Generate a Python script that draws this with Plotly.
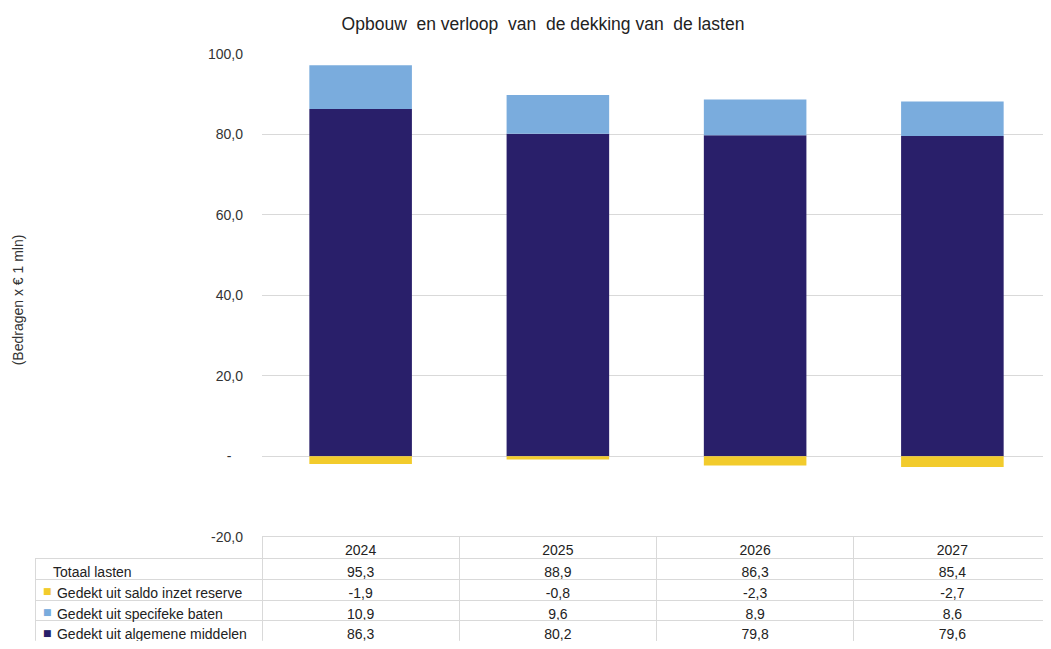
import plotly.graph_objects as go

years = ["2024", "2025", "2026", "2027"]
totaal_lasten = [95.3, 88.9, 86.3, 85.4]
saldo_reserve = [-1.9, -0.8, -2.3, -2.7]
specifieke_baten = [10.9, 9.6, 8.9, 8.6]
algemene_middelen = [86.3, 80.2, 79.8, 79.6]

row_names = ["Totaal lasten", "Gedekt uit saldo inzet reserve", "Gedekt uit specifeke baten",
             "Gedekt uit algemene middelen"]
tick_vals = [-20, 0, 20, 40, 60, 80, 100]
tick_text = ["-20,0", "-\u00a0\u00a0\u00a0", "20,0", "40,0", "60,0", "80,0", "100,0"]

c_navy = "#291F6A"
c_blue = "#7AACDD"
c_yellow = "#F2CB2C"
row_key_colors = ["white", c_yellow, c_blue, c_navy]
grid = "#D9D9D9"
font_family = "Liberation Sans, Arial, sans-serif"
transparent = "rgba(0,0,0,0)"

# page has an 8px body margin: figure origin sits at page (8, 8)
OFF = 8
W, H = 1051 - OFF, 649 - OFF
t_m, b_m = 54 - OFF, 4
paper_h = H - t_m - b_m
axis_bottom = 540 - OFF
axis_frac = (H - b_m - axis_bottom) / paper_h
plot_left = 262 - OFF
table_left = 35 - OFF
label_left = 45 - OFF
header_h = 22
row_h = (paper_h * axis_frac - header_h) / 4
col_w = (W - plot_left) / 4

fig = go.Figure()
fig.add_trace(go.Bar(x=years, y=algemene_middelen, name=row_names[3], marker_color=c_navy,
                     marker_line_width=0, showlegend=False))
fig.add_trace(go.Bar(x=years, y=specifieke_baten, name=row_names[2], marker_color=c_blue,
                     marker_line_width=0, showlegend=False))
fig.add_trace(go.Bar(x=years, y=saldo_reserve, name=row_names[1], marker_color=c_yellow,
                     marker_line_width=0, showlegend=False))

def fmt(v):
    return f"{v:.1f}".replace(".", ",")

# first-column frame with the legend keys
fig.add_trace(go.Table(
    domain=dict(x=[table_left / W, plot_left / W], y=[0, axis_frac]),
    header=dict(values=[""], height=header_h, fill=dict(color=transparent),
                line=dict(color=transparent, width=1)),
    cells=dict(values=[["■"] * 4], height=row_h, fill_color="white",
               line=dict(color=grid, width=1), align="left",
               font=dict(family="DejaVu Sans", size=9, color=[row_key_colors])),
))

row_labels = [row_names[0]] + ["\u2009\u200a" + n for n in row_names[1:]]
cols = [row_labels]
for i in range(len(years)):
    cols.append([fmt(totaal_lasten[i]), fmt(saldo_reserve[i]), fmt(specifieke_baten[i]), fmt(algemene_middelen[i])])

fig.add_trace(go.Table(
    domain=dict(x=[label_left / W, 1], y=[0, axis_frac]),
    columnwidth=[plot_left - label_left] + [col_w] * 4,
    header=dict(values=[""] + years, height=header_h,
                fill=dict(color=[transparent] + ["white"] * 4),
                line=dict(color=[transparent] + [grid] * 4, width=1),
                align="center", font=dict(family=font_family, size=14, color="#222")),
    cells=dict(values=cols, height=row_h,
               fill=dict(color=[transparent] + ["white"] * 4),
               line=dict(color=[transparent] + [grid] * 4, width=1),
               align=["left", "center", "center", "center", "center"],
               font=dict(family=font_family, size=14, color="#222")),
))

fig.update_layout(
    width=W, height=H,
    margin=dict(l=0, r=0, t=t_m, b=b_m),
    barmode="relative",
    bargap=0.48,
    plot_bgcolor="white", paper_bgcolor="white",
    font=dict(family=font_family, size=14, color="#333"),
    title=dict(text="Opbouw\u00a0 en verloop\u00a0 van\u00a0 de dekking van\u00a0 de lasten",
               x=(543 - OFF) / W, xanchor="center",
               y=1 - (24 - OFF) / H, yanchor="middle", font=dict(size=17.5, color="#222")),
    xaxis=dict(domain=[plot_left / W, 1], showticklabels=False, showgrid=False, zeroline=False,
               showline=False, ticks=""),
    yaxis=dict(domain=[axis_frac, 1], range=[-20, 100], tickvals=tick_vals, ticktext=tick_text,
               showgrid=True, gridcolor=grid, gridwidth=1, zeroline=False, showline=False,
               ticks="", ticklabelstandoff=18, tickfont=dict(size=14, color="#333")),
    annotations=[dict(text="(Bedragen x € 1 mln)", textangle=-90, x=(18 - OFF) / W,
                      y=1 - (302 - 54) / paper_h,
                      xref="paper", yref="paper", showarrow=False, xanchor="center", yanchor="middle",
                      font=dict(size=14, color="#333"))],
)

fig.write_html("out.html")
